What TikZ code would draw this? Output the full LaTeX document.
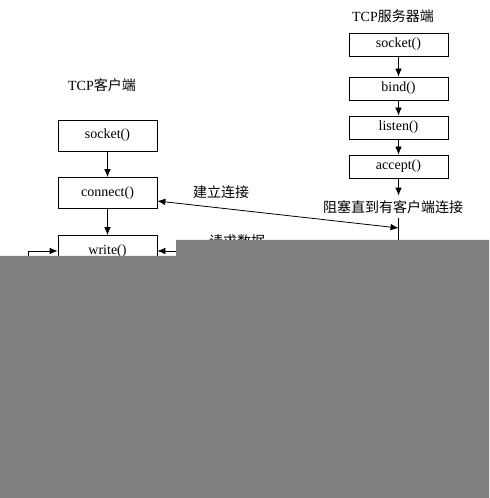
\documentclass[tikz,border=0pt]{standalone}
\usepackage{fontspec}
\setmainfont{Liberation Serif}
\newfontfamily\cjk{Noto Sans CJK SC}
\usetikzlibrary{calc}
\usetikzlibrary{positioning}
\usetikzlibrary{arrows.meta}
\definecolor{cover}{RGB}{128,128,128}

\begin{document}
\begin{tikzpicture}[x=0.75pt, y=-0.75pt, line width=0.6pt,
    >={Latex[length=6pt,width=5pt]},
    every node/.style={font=\fontsize{10.5}{12}\selectfont},
    srvbox/.style={draw, inner sep=0pt, minimum width=74.25pt, minimum height=17.25pt},
    clibox/.style={draw, inner sep=0pt, minimum width=74.25pt, minimum height=23.25pt}]
      \useasboundingbox (0,0) rectangle (489,498);

      % server side
      \node (srvtitle) at (393,16) {TCP{\cjk 服务器端}};
      \node[srvbox] (ssocket) at (398.5,44.5) {socket()};
      \node[srvbox] (sbind) at (398.5,88.5) {bind()};
      \node[srvbox] (slisten) at (398.5,127.5) {listen()};
      \node[srvbox] (saccept) at (398.5,166.5) {accept()};
      \node (sblock) at (393,207) {\cjk 阻塞直到有客户端连接};
      \coordinate (smeet) at (398.5,228);
      \coordinate (sdown) at (398.5,300);

      \draw[->] (ssocket) -- (sbind);
      \draw[->] (sbind) -- (slisten);
      \draw[->] (slisten) -- (saccept);
      \draw[->] (saccept) -- (saccept.south |- sblock.north);
      \draw (saccept.south |- sblock.south) -- (sdown);

      % client side
      \node (clititle) at (102,85) {TCP{\cjk 客户端}};
      \node[clibox] (csocket) at (107.5,135.5) {socket()};
      \node[clibox] (cconnect) at (107.5,193) {connect()};
      \node[clibox] (cwrite) at (107.5,251) {write()};
      \coordinate (cloop) at (28,300);
      \coordinate (creq) at (200,251);

      \draw[->] (csocket) -- (cconnect);
      \draw[->] (cconnect) -- (cwrite);
      \draw[->] (cloop) |- (cwrite.west);
      \draw[->] (creq) -- (cwrite.east);

      \draw[<->] ([yshift=-6pt]cconnect.east) -- (smeet);
      \node (connlabel) at (221,192) {\cjk 建立连接};
      \node (reqlabel) at (237,241) {\cjk 请求数据};

      % grey cover
      \fill[cover] (0,256) -- (176,256) -- (176,240) -- (489,240)
        -- (489,498) -- (0,498) -- cycle;
    \end{tikzpicture}
\end{document}
